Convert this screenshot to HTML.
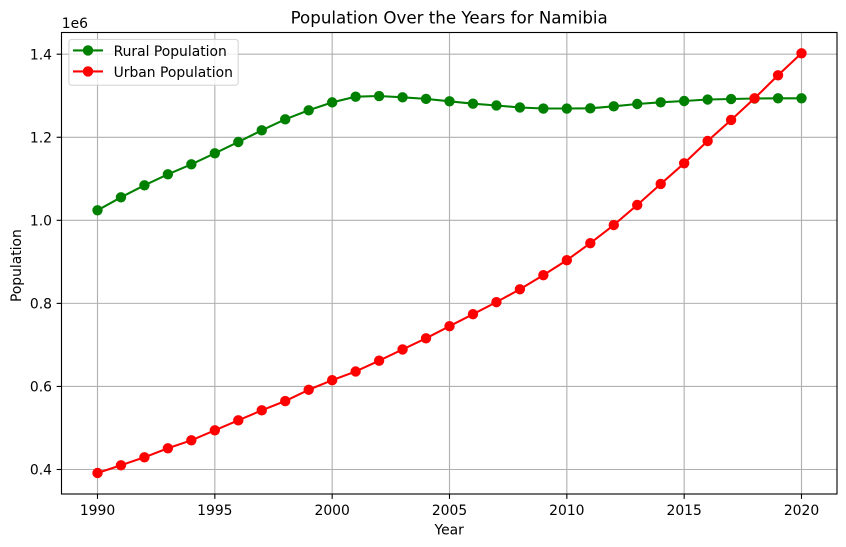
<!DOCTYPE html>
<html lang="en">
<head>
<meta charset="utf-8">
<title>Population Over the Years for Namibia</title>
<style>
html,body{margin:0;padding:0;background:#fff;}
svg{display:block;font-family:"DejaVu Sans","Liberation Sans",sans-serif;fill:#000;}
</style>
</head>
<body>
<svg id="chart" xmlns="http://www.w3.org/2000/svg" width="846" height="547" viewBox="0 0 846 547">
  <rect x="0" y="0" width="846" height="547" fill="#fff"/>
  <g id="grid"></g>
  <g id="series"></g>
  <rect x="61.5" y="32.5" width="775.5" height="461.5" fill="none" stroke="#000" stroke-width="1.11"/>
  <g id="ticks"></g>
  <text x="449.2" y="23.7" font-size="16.67" text-anchor="middle">Population Over the Years for Namibia</text>
  <text x="449.2" y="534.5" font-size="13.89" text-anchor="middle">Year</text>
  <text transform="translate(21,265.6) rotate(-90)" font-size="13.89" text-anchor="middle">Population</text>
  <text x="61.8" y="28" font-size="13.89">1e6</text>
  <g>
    <rect x="68.9" y="39.4" width="169.3" height="45.8" rx="2.8" fill="#fff" fill-opacity="0.8" stroke="#ccc" stroke-opacity="0.8" stroke-width="1.11"/>
    <g>
      <line x1="73" y1="50.4" x2="103" y2="50.4" stroke="#008000" stroke-width="2.08"/>
      <circle cx="88" cy="50.4" r="4.5" fill="#008000" stroke="#008000" stroke-width="1.39"/>
      <text x="113.6" y="55.8" font-size="13.89">Rural Population</text>
    </g>
    <g>
      <line x1="73" y1="71.4" x2="103" y2="71.4" stroke="#ff0000" stroke-width="2.08"/>
      <circle cx="88" cy="71.4" r="4.5" fill="#ff0000" stroke="#ff0000" stroke-width="1.39"/>
      <text x="113.6" y="76.8" font-size="13.89">Urban Population</text>
    </g>
  </g>
</svg>
<script>
const years = [1990,1991,1992,1993,1994,1995,1996,1997,1998,1999,2000,2001,2002,2003,2004,2005,2006,2007,2008,2009,2010,2011,2012,2013,2014,2015,2016,2017,2018,2019,2020];
const ruralPopulation = [1024100,1055400,1084300,1110800,1134900,1161400,1188600,1216800,1243200,1265000,1284000,1297700,1299300,1296200,1292400,1286600,1280800,1276500,1271700,1269200,1269200,1269700,1274500,1280100,1284200,1287300,1290900,1292100,1293300,1293800,1293800];
const urbanPopulation = [391600,410200,429400,451100,470300,494400,518400,542500,564900,592000,615000,636000,662000,689000,716000,745000,774000,803000,834000,868000,904000,945000,988700,1036900,1087500,1137300,1191000,1241600,1293800,1349200,1402200];
const xTickValues = [1990,1995,2000,2005,2010,2015,2020];
const yTickValues = [400000,600000,800000,1000000,1200000,1400000];
const yTickLabels = ['0.4','0.6','0.8','1.0','1.2','1.4'];

const NS = 'http://www.w3.org/2000/svg';
function xScale(v){ return 97.5 + (v - 1990) * (801.5 - 97.5) / 30; }
function yScale(v){ return 469.5 - (v - 400000) * (469.5 - 54.2) / 1000000; }
function make(tag, attrs, parent){
  const el = document.createElementNS(NS, tag);
  for (const k in attrs) el.setAttribute(k, attrs[k]);
  parent.appendChild(el);
  return el;
}
const gridG = document.getElementById('grid');
const ticksG = document.getElementById('ticks');
const seriesG = document.getElementById('series');
const PLOT = {l:61.5, r:837, t:32.5, b:494};

xTickValues.forEach(function(v){
  const x = xScale(v);
  const g = make('line', {x1:x, x2:x, y1:PLOT.t, y2:PLOT.b, stroke:'#b0b0b0', 'stroke-width':1.11}, gridG);
  
  
  const t = make('line', {x1:x, x2:x, y1:PLOT.b, y2:PLOT.b + 4.86, stroke:'#000', 'stroke-width':1.11}, ticksG);
  
  
  const l = make('text', {x:x, y:515, 'font-size':13.89, 'text-anchor':'middle'}, ticksG);
  
  
  l.textContent = String(v);
});
yTickValues.forEach(function(v, i){
  const y = yScale(v);
  const g = make('line', {x1:PLOT.l, x2:PLOT.r, y1:y, y2:y, stroke:'#b0b0b0', 'stroke-width':1.11}, gridG);
  
  
  const t = make('line', {x1:PLOT.l - 4.86, x2:PLOT.l, y1:y, y2:y, stroke:'#000', 'stroke-width':1.11}, ticksG);
  
  
  const l = make('text', {x:52, y:y + 5.2, 'font-size':13.89, 'text-anchor':'end'}, ticksG);
  
  
  l.textContent = yTickLabels[i];
});
function drawSeries(values, color, name){
  const g = make('g', {}, seriesG);
  
  
  const pts = values.map(function(v, i){ return xScale(years[i]) + ',' + yScale(v); }).join(' ');
  const line = make('polyline', {points:pts, fill:'none', stroke:color, 'stroke-width':2.08, 'stroke-linejoin':'round'}, g);
  
  
  values.forEach(function(v, i){
    const c = make('circle', {cx:xScale(years[i]), cy:yScale(v), r:4.5, fill:color, stroke:color, 'stroke-width':1.39}, g);
    
    
  });
}
drawSeries(ruralPopulation, '#008000', 'rural-population');
drawSeries(urbanPopulation, '#ff0000', 'urban-population');
</script>
</body>
</html>
